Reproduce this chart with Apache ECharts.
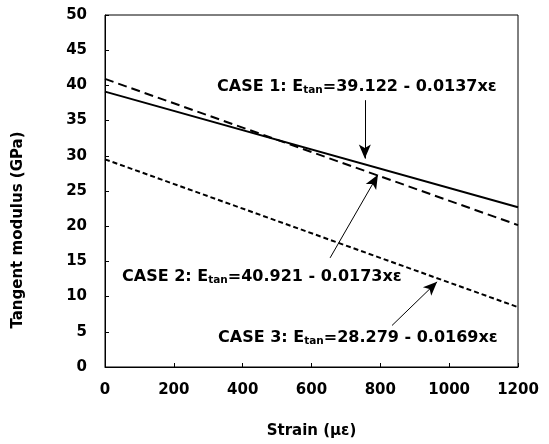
<!DOCTYPE html>
<html>
<head>
<meta charset="utf-8">
<script src="https://cdn.jsdelivr.net/npm/echarts@6/dist/echarts.min.js"></script>
<style>
  html, body { margin: 0; padding: 0; background: #fff; }
  #chart { width: 549px; height: 444px; }
</style>
</head>
<body>
<div id="chart"></div>
<script>
// Strain range (micro-strain) used for each fitted line: start and end
const strainPoints = [0, 1200];

// Tangent modulus (GPa) at the start and end of each line
const case1Modulus = [39.12, 22.68];
const case2Modulus = [40.92, 20.16];
const case3Modulus = [29.5, 8.5];

// Arrow annotations: [strain, modulus] from tail to head
const case1Arrow = [[755, 37.9], [755, 29.6]];
const case2Arrow = [[654, 15.5], [793, 27.3]];
const case3Arrow = [[834, 5.9], [965, 12.1]];

const FONT = '"DejaVu Sans", "Liberation Sans", Arial, sans-serif';

function pairs(xs, ys) {
  return xs.map((x, i) => [x, ys[i]]);
}

function arrow(seg) {
  return {
    silent: true,
    symbol: ['none', 'arrow'],
    symbolSize: [9, 14],
    label: { show: false },
    lineStyle: { color: '#000', width: 1, type: 'solid' },
    emphasis: { disabled: true },
    data: [[{ coord: seg[0] }, { coord: seg[1] }]]
  };
}

function note(text, left, top) {
  return {
    type: 'text',
    left: left,
    top: top,
    style: {
      text: text,
      rich: {
        m: { fontFamily: FONT, fontWeight: 'bold', fontSize: 16, fill: '#000', lineHeight: 19 },
        s: { fontFamily: FONT, fontWeight: 'bold', fontSize: 10.5, fill: '#000', lineHeight: 19, verticalAlign: 'bottom', padding: [7, 0, 0, 0] }
      }
    }
  };
}

const chart = echarts.init(document.getElementById('chart'), null, { renderer: 'canvas' });

chart.setOption({
  animation: false,
  backgroundColor: '#fff',
  grid: {
    left: 105, right: 31, top: 15, bottom: 74,
    show: true, borderColor: '#000', borderWidth: 1
  },
  xAxis: {
    type: 'value',
    min: 0, max: 1200, interval: 200,
    name: 'Strain (με)',
    nameLocation: 'middle',
    nameGap: 57,
    nameTextStyle: { fontFamily: FONT, fontWeight: 'bold', fontSize: 15, color: '#000' },
    axisLine: { show: true, onZero: false, lineStyle: { color: '#000', width: 1 } },
    axisTick: { show: true, inside: true, length: 4, lineStyle: { color: '#000' } },
    axisLabel: {
      margin: 16, fontFamily: FONT, fontWeight: 'bold', fontSize: 15, color: '#000',
      formatter: (v) => String(v)
    },
    splitLine: { show: false }
  },
  yAxis: {
    type: 'value',
    min: 0, max: 50, interval: 5,
    axisLine: { show: true, onZero: false, lineStyle: { color: '#000', width: 1 } },
    axisTick: { show: true, inside: true, length: 4, lineStyle: { color: '#000' } },
    axisLabel: { margin: 18, fontFamily: FONT, fontWeight: 'bold', fontSize: 15, color: '#000' },
    splitLine: { show: false }
  },
  series: [
    {
      name: 'CASE 1',
      type: 'line',
      data: pairs(strainPoints, case1Modulus),
      showSymbol: false,
      lineStyle: { color: '#000', width: 2, type: 'solid' },
      markLine: arrow(case1Arrow)
    },
    {
      name: 'CASE 2',
      type: 'line',
      data: pairs(strainPoints, case2Modulus),
      showSymbol: false,
      lineStyle: { color: '#000', width: 2, type: [9, 5] },
      markLine: arrow(case2Arrow)
    },
    {
      name: 'CASE 3',
      type: 'line',
      data: pairs(strainPoints, case3Modulus),
      showSymbol: false,
      lineStyle: { color: '#000', width: 2, type: [5, 3] },
      markLine: arrow(case3Arrow)
    }
  ],
  graphic: [
    {
      type: 'text',
      x: 18, y: 230,
      rotation: Math.PI / 2,
      style: {
        text: 'Tangent modulus (GPa)',
        fontFamily: FONT, fontWeight: 'bold', fontSize: 15,
        fill: '#000', align: 'center', verticalAlign: 'middle'
      }
    },
    note('{m|CASE 1: E}{s|tan}{m|=39.122 - 0.0137xε}', 217, 78),
    note('{m|CASE 2: E}{s|tan}{m|=40.921 - 0.0173xε}', 122, 268),
    note('{m|CASE 3: E}{s|tan}{m|=28.279 - 0.0169xε}', 218, 329)
  ]
});
</script>
</body>
</html>
